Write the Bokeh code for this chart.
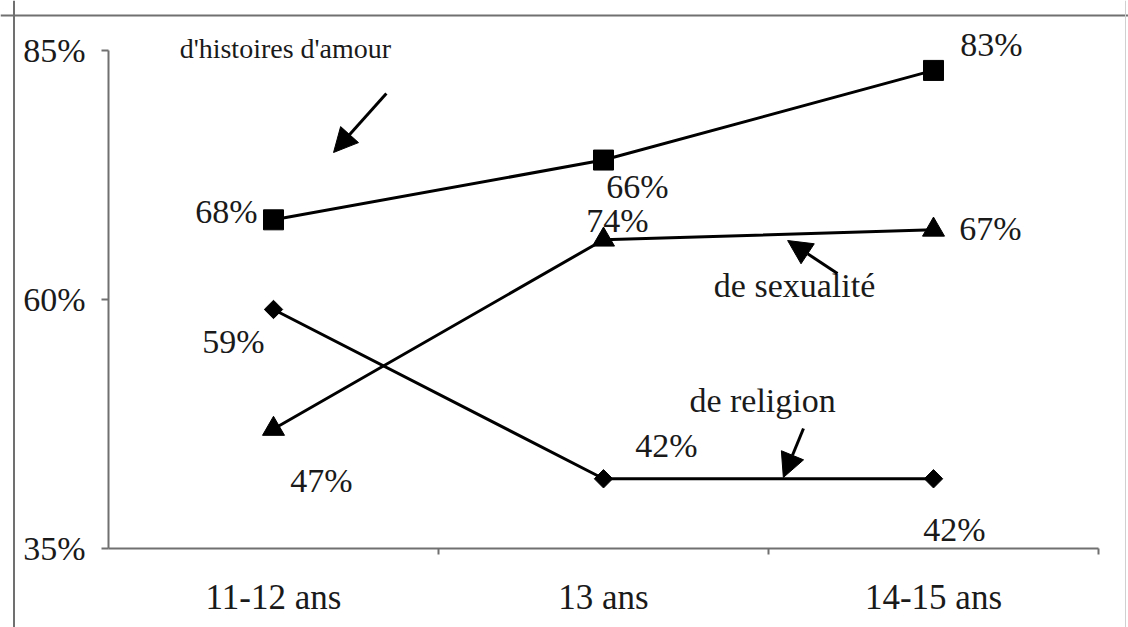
import math
from bokeh.plotting import figure
from bokeh.models import (Range1d, FixedTicker, ColumnDataSource, LabelSet, Label,
                          Arrow, NormalHead, Span)
from bokeh.embed import file_html
from bokeh.resources import INLINE

# ---- data ----
categories = ["11-12 ans", "13 ans", "14-15 ans"]
amour = [68, 74, 83]
sexualite = [47, 66, 67]
religion = [59, 42, 42]
amour_labels = ["68%", "66%", "83%"]
sexualite_labels = ["47%", "74%", "67%"]
religion_labels = ["59%", "42%", "42%"]
y_ticks = [35, 60, 85]

# ---- layout / style (not data) ----
FONT = "Liberation Serif"
TXT = "#1a1a1a"
LBL_SIZE = "34px"
amour_dx = [-16, 34, 58]
amour_dy = [8, -26, 26]
amour_align = ["right", "center", "center"]
sex_dx = [48, 14, 57]
sex_dy = [-52, 19, 1]
rel_dx = [-40, 63, 21]
rel_dy = [-32, 33, -51]

xs = [i + 0.5 for i in range(len(categories))]

# frame covers the whole canvas; axes are drawn at fixed locations inside it
PX_X = 330.0   # pixels per category
PX_Y = 9.96    # pixels per percent
W, H = 1128, 627
x0 = -108 / PX_X
y1 = 85 + 50 / PX_Y
p = figure(width=W, height=H,
           x_range=Range1d(x0, x0 + W / PX_X),
           y_range=Range1d(y1 - H / PX_Y, y1),
           output_backend="svg", toolbar_location=None,
           min_border_left=0, min_border_right=0, min_border_top=0, min_border_bottom=0)
p.background_fill_color = "white"
p.border_fill_color = "white"
p.outline_line_color = None
p.xgrid.visible = False
p.ygrid.visible = False

# outer frame lines of the scanned figure
p.add_layout(Span(location=x0 + 13.5 / PX_X, dimension="height", line_color="#707070", line_width=2))
p.add_layout(Span(location=y1 - 15 / PX_Y, dimension="width", line_color="#707070", line_width=2))
p.add_layout(Span(location=x0 + 1125 / PX_X, dimension="height", line_color="#d0d0d0", line_width=1))

# y axis
p.yaxis.fixed_location = 0
p.yaxis.bounds = (35, 85)
p.yaxis.ticker = FixedTicker(ticks=y_ticks)
p.yaxis.major_label_overrides = {t: f"{t}%" for t in y_ticks}
p.yaxis.axis_line_color = "#707070"
p.yaxis.axis_line_width = 2
p.yaxis.major_tick_line_color = "#707070"
p.yaxis.major_tick_line_width = 2
p.yaxis.major_tick_out = 7
p.yaxis.major_tick_in = 0
p.yaxis.minor_tick_line_color = None
p.yaxis.major_label_standoff = 16
p.yaxis.major_label_text_font = FONT
p.yaxis.major_label_text_font_size = LBL_SIZE
p.yaxis.major_label_text_color = TXT

# x axis
p.xaxis.fixed_location = 35
p.xaxis.bounds = (0, 3)
p.xaxis.ticker = FixedTicker(ticks=xs, minor_ticks=[1, 2, 3])
p.xaxis.major_label_overrides = {x: c for x, c in zip(xs, categories)}
p.xaxis.axis_line_color = "#707070"
p.xaxis.axis_line_width = 2
p.xaxis.major_tick_line_color = None
p.xaxis.major_tick_out = 0
p.xaxis.major_tick_in = 0
p.xaxis.minor_tick_line_color = "#707070"
p.xaxis.minor_tick_line_width = 2
p.xaxis.minor_tick_out = 6
p.xaxis.minor_tick_in = 0
p.xaxis.major_label_standoff = 23
p.xaxis.major_label_text_font = FONT
p.xaxis.major_label_text_font_size = "35px"
p.xaxis.major_label_text_color = TXT

# series
p.line(xs, amour, line_color="black", line_width=3)
p.scatter(xs, amour, marker="square", size=20, color="black")
p.line(xs, sexualite, line_color="black", line_width=3)
p.scatter(xs, sexualite, marker="triangle", size=22, color="black")
p.line(xs, religion, line_color="black", line_width=3)
p.scatter(xs, religion, marker="square", angle=math.pi / 4, size=13, color="black")

def add_labels(vals, labels, dx, dy, align):
    src = ColumnDataSource(dict(x=xs, y=vals, t=labels, dx=dx, dy=dy, a=align))
    p.add_layout(LabelSet(x="x", y="y", text="t", x_offset="dx", y_offset="dy",
                          text_align="a", text_baseline="middle", source=src,
                          text_font=FONT, text_font_size=LBL_SIZE, text_color=TXT))

add_labels(amour, amour_labels, amour_dx, amour_dy, amour_align)
add_labels(sexualite, sexualite_labels, sex_dx, sex_dy, ["center"] * 3)
add_labels(religion, religion_labels, rel_dx, rel_dy, ["center"] * 3)

# annotations
for txt, x, y, fs in [("d'histoires d'amour", 0.536, 85.2, "28px"),
                      ("de sexualité", 2.079, 61.4, "34px"),
                      ("de religion", 1.982, 49.86, "34px")]:
    p.add_layout(Label(x=x, y=y, text=txt, text_align="center", text_baseline="middle",
                       text_font=FONT, text_font_size=fs, text_color=TXT))

for xs0, ys0, xe, ye in [(0.842, 80.68, 0.682, 74.76),
                         (2.209, 62.61, 2.058, 65.92),
                         (2.106, 47.05, 2.045, 42.13)]:
    p.add_layout(Arrow(end=NormalHead(size=24, fill_color="black", line_color="black"),
                       x_start=xs0, y_start=ys0, x_end=xe, y_end=ye,
                       line_color="black", line_width=3))

open("out.html", "w").write(file_html(p, INLINE))
